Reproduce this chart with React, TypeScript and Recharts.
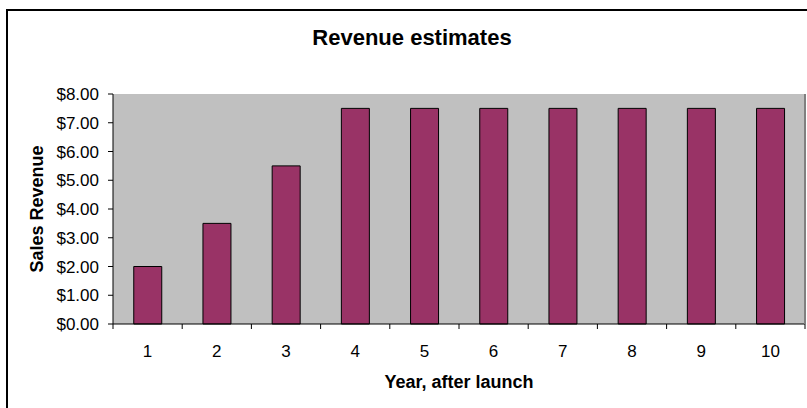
import React from 'react';
import { BarChart, Bar, XAxis, YAxis, CartesianGrid, Label } from 'recharts';

const years = ['1', '2', '3', '4', '5', '6', '7', '8', '9', '10'];
const revenue = [2, 3.5, 5.5, 7.5, 7.5, 7.5, 7.5, 7.5, 7.5, 7.5];
const yTicks = [0, 1, 2, 3, 4, 5, 6, 7, 8];

const FONT = '"Liberation Sans", Arial, sans-serif';
const TICK_SIZE = 5;
const TICK_MARGIN = 16;

const data = years.map((year, i) => ({ year, revenue: revenue[i] }));

// Excel style: tick marks sit between categories, labels under the middle
const YearTick = (props: any) => {
  const { x, y, payload, index } = props;
  const axisY = y - TICK_SIZE - TICK_MARGIN;
  const half = payload && payload.offset ? payload.offset : 34.6;
  const last = index === years.length - 1;
  return (
    <g>
      <line x1={x - half} y1={axisY} x2={x - half} y2={axisY + TICK_SIZE} stroke="#000" />
      {last && (
        <line x1={x + half} y1={axisY} x2={x + half} y2={axisY + TICK_SIZE} stroke="#000" />
      )}
      <text x={x} y={axisY + 33} textAnchor="middle" fontSize={17} fontFamily={FONT} fill="#000">
        {payload.value}
      </text>
    </g>
  );
};

const YTitle = (props: any) => {
  const { viewBox } = props;
  const cx = viewBox.x + 43;
  const cy = viewBox.y + viewBox.height / 2;
  return (
    <text
      x={cx}
      y={cy}
      transform={`rotate(-90, ${cx}, ${cy})`}
      textAnchor="middle"
      fontSize={18}
      fontWeight="bold"
      fontFamily={FONT}
      fill="#000"
    >
      Sales Revenue
    </text>
  );
};

const XTitle = (props: any) => {
  const { viewBox } = props;
  return (
    <text
      x={viewBox.x + viewBox.width / 2}
      y={viewBox.y + 64}
      textAnchor="middle"
      fontSize={18}
      fontWeight="bold"
      fontFamily={FONT}
      fill="#000"
    >
      Year, after launch
    </text>
  );
};

export default function App() {
  return (
    <div
      style={{
        position: 'absolute',
        left: 0,
        top: 0,
        width: 807,
        height: 408,
        overflow: 'hidden',
        background: '#fff',
        fontFamily: FONT,
      }}
    >
      <div
        style={{
          position: 'absolute',
          left: 6,
          top: 9,
          width: 812,
          height: 420,
          border: '2px solid #000',
          boxSizing: 'border-box',
        }}
      />
      <div
        style={{
          position: 'absolute',
          left: 6,
          top: 27,
          width: 812,
          textAlign: 'center',
          fontSize: 22,
          lineHeight: '22px',
          fontWeight: 'bold',
          color: '#000',
        }}
      >
        Revenue estimates
      </div>
      <div style={{ position: 'absolute', left: 0, top: 0 }}>
        <BarChart
          width={807}
          height={408}
          data={data}
          margin={{ top: 94, right: 0, bottom: 0, left: 0 }}
          barCategoryGap="30%"
        >
          <CartesianGrid fill="#C0C0C0" horizontal={false} vertical={false} />
          <XAxis
            dataKey="year"
            height={84}
            interval={0}
            tickLine={false}
            tickSize={TICK_SIZE}
            tickMargin={TICK_MARGIN}
            axisLine={{ stroke: '#000' }}
            tick={<YearTick />}
          >
            <Label content={<XTitle />} />
          </XAxis>
          <XAxis
            xAxisId="top"
            orientation="top"
            dataKey="year"
            height={0}
            tick={false}
            tickLine={false}
            axisLine={{ stroke: '#808080', strokeWidth: 2 }}
          />
          <YAxis
            width={113}
            domain={[0, 8]}
            ticks={yTicks}
            interval={0}
            tickSize={TICK_SIZE}
            tickMargin={9}
            tickLine={{ stroke: '#000' }}
            axisLine={{ stroke: '#000' }}
            tick={{ fill: '#000', fontSize: 17, fontFamily: FONT }}
            tickFormatter={(v: number) => `$${v.toFixed(2)}`}
          >
            <Label content={<YTitle />} />
          </YAxis>
          <YAxis
            yAxisId="right"
            orientation="right"
            width={2}
            domain={[0, 8]}
            tick={false}
            tickLine={false}
            axisLine={{ stroke: '#808080', strokeWidth: 2 }}
          />
          <Bar
            dataKey="revenue"
            fill="#993366"
            stroke="#000"
            strokeWidth={1}
            isAnimationActive={false}
          />
        </BarChart>
      </div>
    </div>
  );
}
